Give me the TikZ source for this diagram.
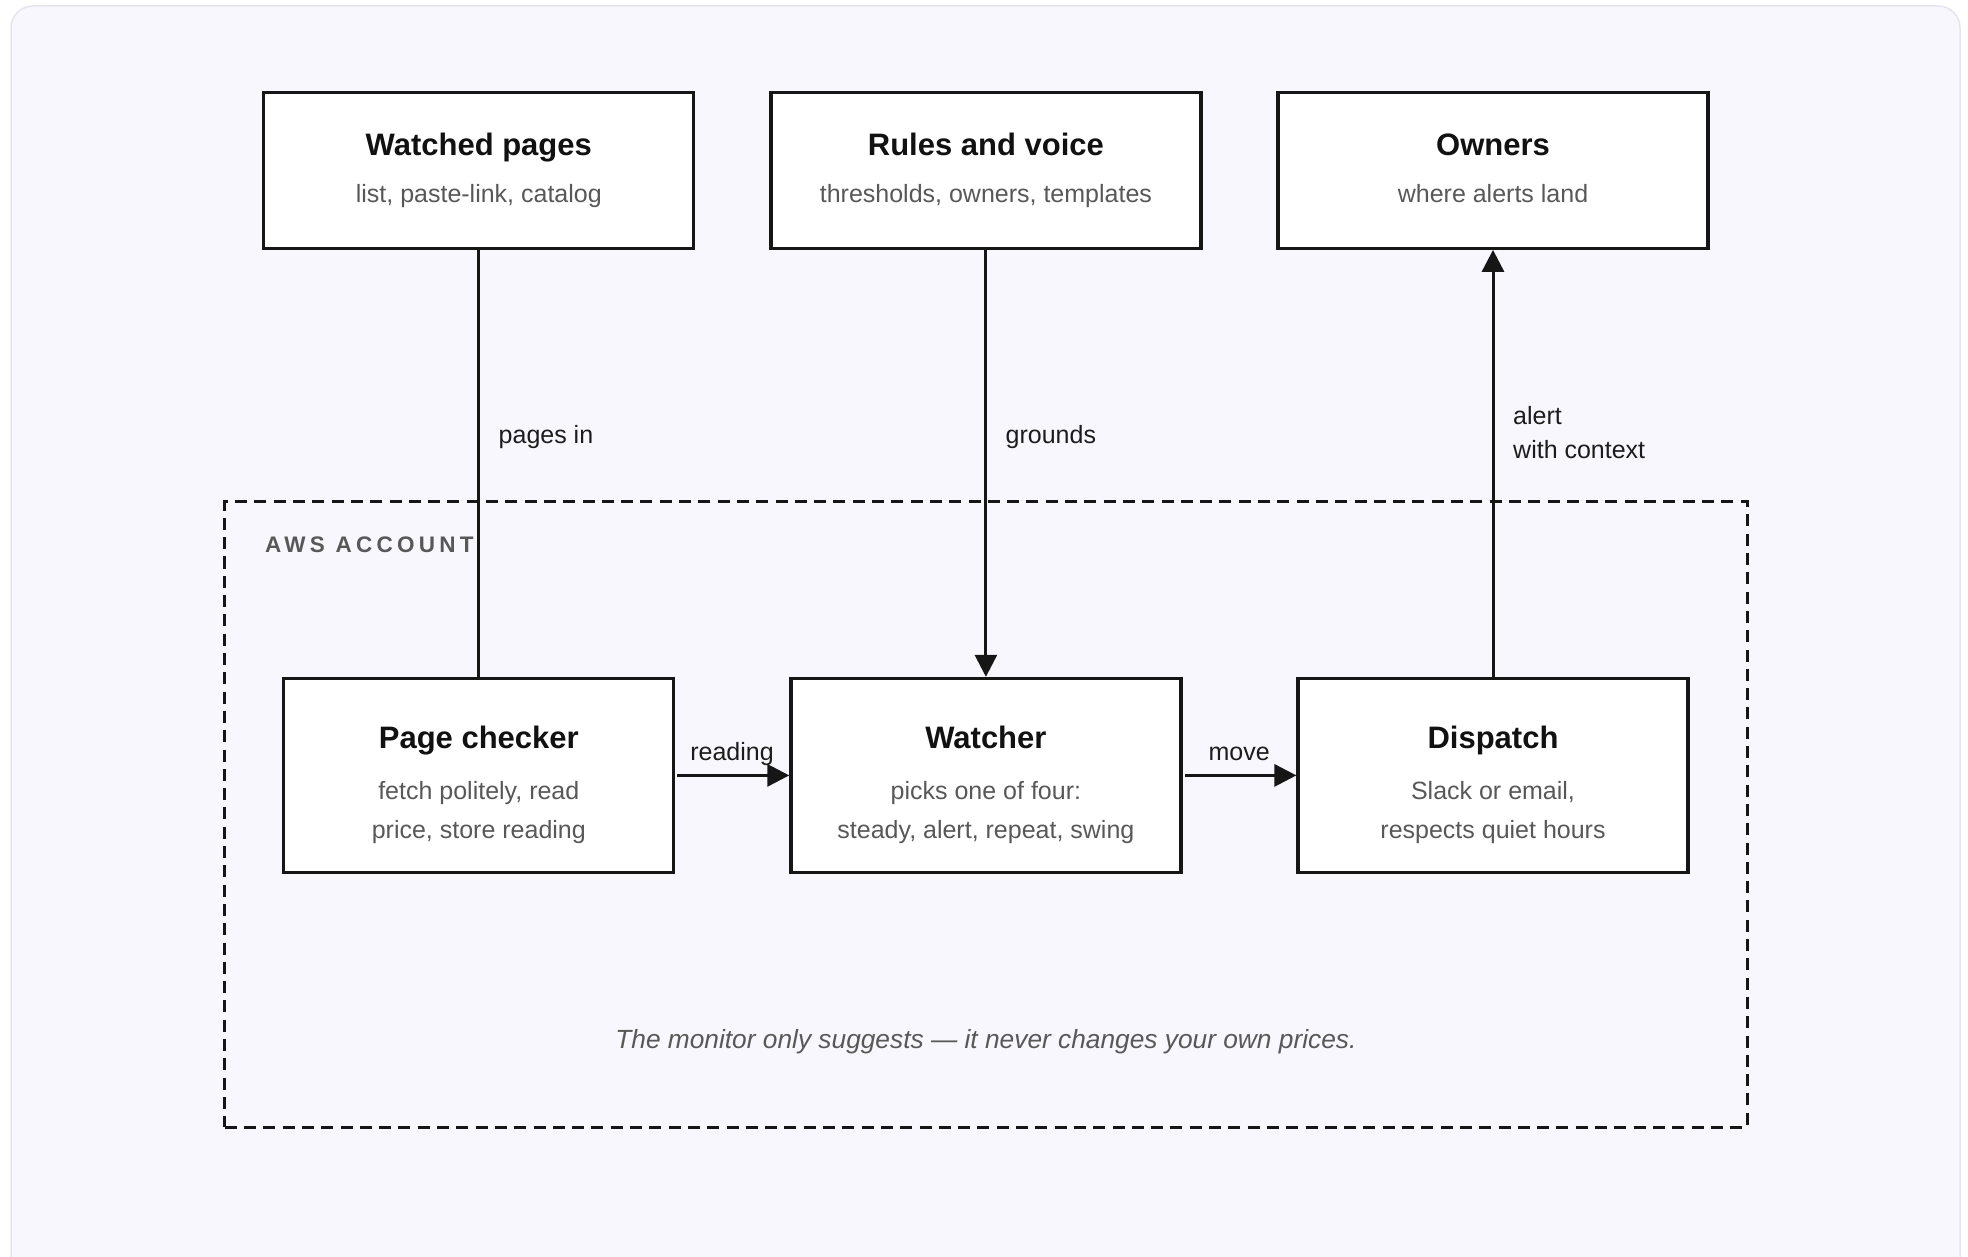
\documentclass[tikz,border=0pt]{standalone}
\usepackage{fontspec}
\setmainfont{Liberation Sans}
\newfontfamily\spacedfont[LetterSpace=19]{Liberation Sans}
\usetikzlibrary{arrows.meta}
\definecolor{cardbg}{HTML}{F8F7FD}
\definecolor{cardline}{HTML}{E6E5EE}
\definecolor{ink}{HTML}{161616}
\definecolor{titleink}{HTML}{111111}
\definecolor{subgray}{HTML}{585858}
\definecolor{lblink}{HTML}{1C1C1C}
\tikzset{
  boxnode/.style={draw=ink, fill=white, line width=3.2pt, inner sep=0pt},
  topbox/.style={boxnode, minimum width=430pt, minimum height=156pt},
  lowbox/.style={boxnode, minimum width=390pt, minimum height=194pt},
  awsbox/.style={draw=ink, line width=3pt, dash pattern=on 12pt off 7.3pt, inner sep=0pt,
                 minimum width=1522.4pt, minimum height=625.3pt},
  ttl/.style={font=\fontsize{31}{37}\selectfont\bfseries, text=titleink, anchor=base, inner sep=0pt},
  subt/.style={font=\fontsize{25}{30}\selectfont, text=subgray, anchor=base, inner sep=0pt},
  lbl/.style={font=\fontsize{25}{30}\selectfont, text=lblink, inner sep=0pt},
  notetext/.style={font=\fontsize{26.3}{30}\selectfont\itshape, text=subgray, anchor=base, inner sep=0pt},
  awslbl/.style={font=\spacedfont\fontsize{22.5}{27}\selectfont\bfseries, text=subgray, anchor=base west, inner sep=0pt},
  conn/.style={draw=ink, line width=3pt},
  arr/.style={conn, -{Triangle[length=22pt, width=22pt]}},
}
\begin{document}
\begin{tikzpicture}[x=1pt, y=-1pt]
\useasboundingbox (0,0) rectangle (1968,1257);
\fill[white] (0,0) rectangle (1968,1257);
\draw[draw=cardline, fill=cardbg, line width=1.5pt, rounded corners=22pt] (11,6) rectangle (1960,1320);

% AWS account container
\node[awsbox] (aws) at (985.9,814.35) {};
\node[awslbl] (awst) at (265,552.7) {AWS ACCOUNT};

% top row
\node[topbox] (wp) at (478.8,170.3) {};
\node[topbox] (rv) at (985.9,170.3) {};
\node[topbox] (ow) at (1493,170.3) {};
\node[ttl] (wpt) at (478.8,155.3) {Watched pages};
\node[subt] (wps) at (478.8,202.7) {list, paste-link, catalog};
\node[ttl] (rvt) at (985.9,155.3) {Rules and voice};
\node[subt] (rvs) at (985.9,202.7) {thresholds, owners, templates};
\node[ttl] (owt) at (1493,155.3) {Owners};
\node[subt] (ows) at (1493,202.7) {where alerts land};

% bottom row
\node[lowbox] (pc) at (478.8,775.4) {};
\node[lowbox] (wa) at (985.9,775.4) {};
\node[lowbox] (di) at (1493,775.4) {};
\node[ttl] (pct) at (478.8,748.3) {Page checker};
\node[subt] (pcs1) at (478.8,799.3) {fetch politely, read};
\node[subt] (pcs2) at (478.8,838.8) {price, store reading};
\node[ttl] (wat) at (985.9,748.3) {Watcher};
\node[subt] (was1) at (985.9,799.3) {picks one of four:};
\node[subt] (was2) at (985.9,838.8) {steady, alert, repeat, swing};
\node[ttl] (dit) at (1493,748.3) {Dispatch};
\node[subt] (dis1) at (1493,799.3) {Slack or email,};
\node[subt] (dis2) at (1493,838.8) {respects quiet hours};

% connectors
\draw[conn] (wp.south) -- (pc.north);
\draw[arr] (rv.south) -- (wa.north);
\draw[arr] (di.north) -- (ow.south);
\draw[arr, shorten <=2pt] (pc.east) -- (wa.west);
\draw[arr, shorten <=2pt] (wa.east) -- (di.west);

% connector labels
\node[lbl, anchor=base west] (l1) at (498.5,443.5) {pages in};
\node[lbl, anchor=base west] (l2) at (1005.5,443.5) {grounds};
\node[lbl, anchor=base west] (l3a) at (1513,424.5) {alert};
\node[lbl, anchor=base west] (l3b) at (1513,458) {with context};
\node[lbl, anchor=base] (l4) at (732,760.5) {reading};
\node[lbl, anchor=base] (l5) at (1239.2,760.5) {move};

% footnote
\node[notetext] (note) at (985.9,1048.8) {The monitor only suggests — it never changes your own prices.};
\end{tikzpicture}
\end{document}
